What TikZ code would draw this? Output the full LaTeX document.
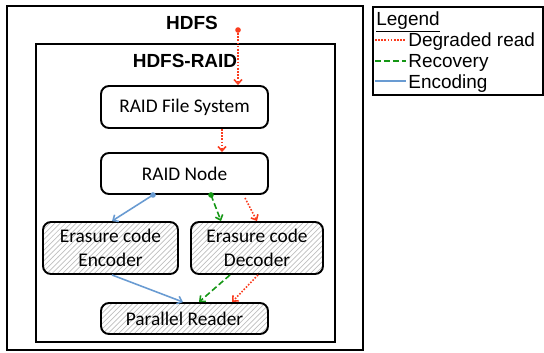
\documentclass[tikz,border=0pt]{standalone}
\usepackage{fontspec}
\setmainfont{Carlito}
\newfontfamily\arialfont{Liberation Sans}
\usepackage{tikz}
\usetikzlibrary{calc,arrows.meta,patterns}
\definecolor{degred}{RGB}{250,60,30}
\definecolor{recgreen}{RGB}{20,150,20}
\definecolor{encblue}{RGB}{105,155,210}
\begin{document}
\begin{tikzpicture}[x=0.02cm, y=-0.02cm,
    box/.style={draw, line width=1.1pt, rounded corners=0.16cm, inner sep=0pt,
        align=center, font=\fontsize{11}{13.5}\selectfont},
    hatched/.style={box, pattern=north east lines, pattern color=gray!50},
    title/.style={font=\arialfont\bfseries\fontsize{10.8}{13}\selectfont},
    flow/.style={line width=0.9pt, arrows={-Straight Barb[length=2.5pt,width=4.5pt]}},
    degraded/.style={degred, line width=0.9pt, dash pattern=on 0.9pt off 0.9pt},
    recovery/.style={recgreen, line width=0.9pt, dash pattern=on 3.4pt off 1.7pt},
    encoding/.style={encblue, line width=0.9pt},
    legtext/.style={anchor=base west, inner sep=0pt, font=\arialfont\fontsize{10.8}{13}\selectfont}]
            \useasboundingbox (0,0) rectangle (544,352);
            \draw[line width=1.1pt] (7,6) rectangle (363,350);
            \draw[line width=1.1pt] (36,44) rectangle (335,342);
            \node[title] (hdfs) at (192,23) {HDFS};
            \node[title] (raid) at (185,61) {HDFS-RAID};
            \node[box, minimum width=3.34cm, minimum height=0.84cm] (rfs) at (184.5,107) {RAID File System};
            \node[box, minimum width=3.34cm, minimum height=0.82cm] (rnode) at (184.5,173.5) {RAID Node};
            \node[hatched, minimum width=2.7cm, minimum height=1.04cm] (enc) at (110.5,248) {Erasure code\\Encoder};
            \node[hatched, minimum width=2.64cm, minimum height=1.04cm] (dec) at (257,248) {Erasure code\\Decoder};
            \node[hatched, minimum width=3.34cm, minimum height=0.62cm] (reader) at (184.5,318.5) {Parallel Reader};
            \coordinate (client) at (238,30);
            \coordinate (encout) at ($(rnode.south)+(-31.5,0)$);
            \coordinate (recout) at ($(rnode.south)+(26.5,0)$);
            % degraded read
            \draw[flow, degraded] (client) -- (client |- rfs.north);
            \fill[degred] (client) circle (1.6pt);
            \draw[flow, degraded] ($(rfs.south)+(37.5,0)$) -- ($(rnode.north)+(37.5,0)$);
            \draw[flow, degraded] ($(rnode.south)+(60.5,3)$) -- (dec.north);
            \draw[flow, degraded] ($(dec.south)+(1,0)$) -- ($(reader.north)+(47.5,0)$);
            % recovery
            \draw[flow, recovery] (recout) -- ($(dec.north)+(-36,0)$);
            \fill[recgreen] (recout) circle (1.6pt);
            \draw[flow, recovery] ($(dec.south)+(-27,0)$) -- ($(reader.north)+(14.5,0)$);
            % encoding
            \draw[flow, encoding] (encout) -- ($(enc.north)+(1.5,0)$);
            \fill[encblue] (encout) circle (1.6pt);
            \draw[flow, encoding] ($(enc.south)+(1.5,0)$) -- ($(reader.north)+(-1.5,0)$);
            % legend
            \draw[line width=0.6pt] (373,7) rectangle (543,95);
            \node[legtext] (legend) at (376,25) {\underline{Legend}};
            \coordinate (l1) at (375,40);
            \coordinate (l2) at (375,61);
            \coordinate (l3) at (375,81);
            \draw[degraded] (l1) -- ++(31,0);
            \draw[recovery] (l2) -- ++(31,0);
            \draw[encoding] (l3) -- ++(31,0);
            \node[legtext] (ldeg) at (408,46) {Degraded read};
            \node[legtext] (lrec) at (408,67) {Recovery};
            \node[legtext] (lenc) at (408,88) {Encoding};
        \end{tikzpicture}
\end{document}
